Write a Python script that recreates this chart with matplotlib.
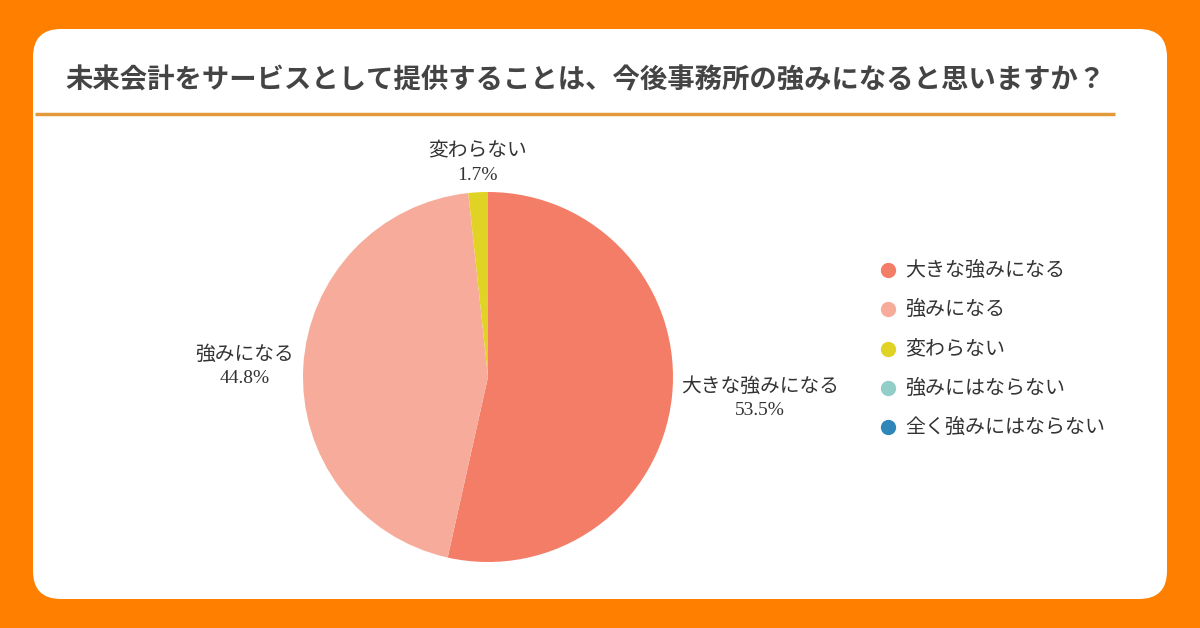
import numpy as np
import matplotlib
matplotlib.use("Agg")
import matplotlib.pyplot as plt
from matplotlib.patches import FancyBboxPatch
from matplotlib.lines import Line2D

plt.rcParams['font.family'] = ['Noto Sans CJK JP', 'DejaVu Sans']

title = "未来会計をサービスとして提供することは、今後事務所の強みになると思いますか？"
categories = ["大きな強みになる", "強みになる", "変わらない", "強みにはならない", "全く強みにはならない"]
values = [53.5, 44.8, 1.7, 0.0, 0.0]
colors = ["#F47D67", "#F7AC9B", "#E0D326", "#93CDC7", "#2F87B9"]

W, H = 1200, 628
fig = plt.figure(figsize=(12, 6.28), dpi=100)
fig.patch.set_facecolor("#FF8000")

# background in pixel coords (y down)
bg = fig.add_axes([0, 0, 1, 1])
bg.set_xlim(0, W)
bg.set_ylim(H, 0)
bg.axis("off")
card = FancyBboxPatch((33 + 28, 29 + 28), 1134 - 56, 570 - 56,
                      boxstyle="round,pad=28", fc="white", ec="none")
bg.add_patch(card)
bg.text(65, 80, title, fontsize=19.7, fontweight="bold", color="#444444",
        va="center", ha="left")
bg.plot([35, 1115], [114, 114], color="#E39A3B", lw=2.5, solid_capstyle="butt")

# pie
cx, cy, r = 488, 377, 185
ax = fig.add_axes([(cx - r) / W, (H - cy - r) / H, 2 * r / W, 2 * r / H])
wedges, _ = ax.pie(values, colors=colors, startangle=90, counterclock=False,
                   radius=1.0, wedgeprops=dict(linewidth=0))
ax.set_xlim(-1, 1)
ax.set_ylim(-1, 1)
ax.axis("off")

fig.canvas.draw()
renderer = fig.canvas.get_renderer()

total = sum(values)
for w, cat, v in zip(wedges, categories, values):
    if v <= 0:
        continue
    ang = np.deg2rad((w.theta1 + w.theta2) / 2)
    d = 1.05
    px = cx + r * d * np.cos(ang)
    py = cy - r * d * np.sin(ang)
    t = bg.text(0, 0, cat, fontsize=14.2, color="#333333", ha="center", va="center")
    tw = t.get_window_extent(renderer).width
    if abs(np.cos(ang)) > 0.5:
        bx = px + tw / 2 if np.cos(ang) > 0 else px - tw / 2
        y1, y2 = py - 12, py + 12
    else:
        bx = px
        y1, y2 = py - 33, py - 8
    t.set_position((bx, y1))
    bg.text(bx, y2, f"{v / total * 100:.1f}%", fontsize=14, color="#333333",
            ha="center", va="center", family=["Liberation Serif", "DejaVu Serif"])

# legend
for i, (cat, c) in enumerate(zip(categories, colors)):
    yy = 270 + i * 39.3
    bg.add_line(Line2D([888], [yy], marker="o", markersize=10, color=c, lw=0))
    bg.text(905, yy, cat, fontsize=14.4, color="#333333", va="center", ha="left")

fig.savefig("out.png", dpi=100, facecolor=fig.get_facecolor())
